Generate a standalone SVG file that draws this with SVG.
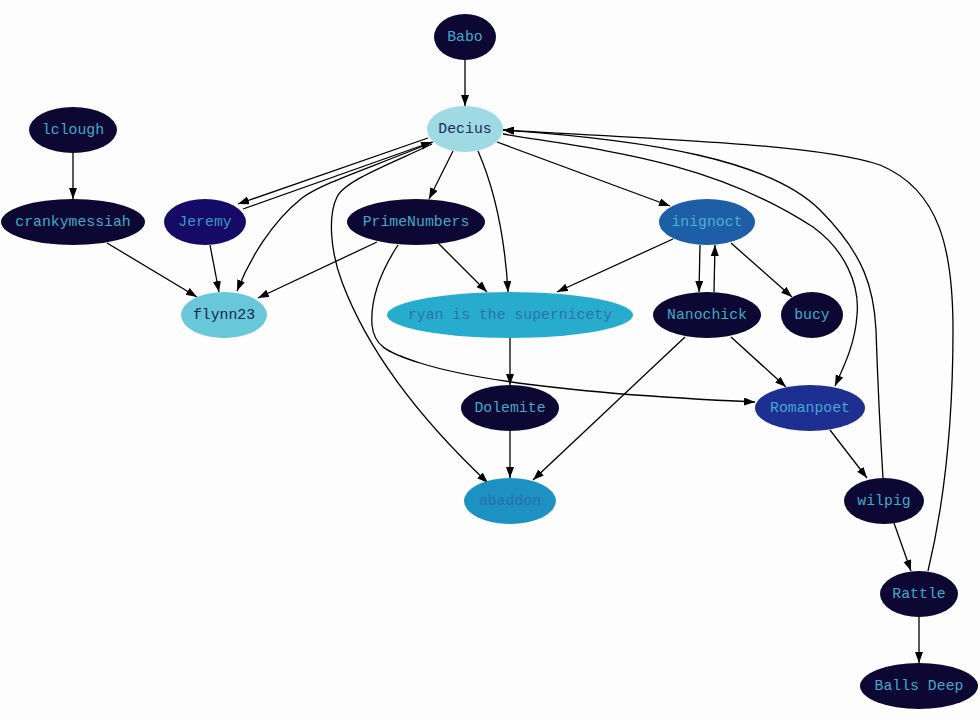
<svg xmlns="http://www.w3.org/2000/svg" width="980" height="720" viewBox="0 0 980 720">
<defs>
<marker id="arr" markerUnits="userSpaceOnUse" markerWidth="13" markerHeight="9" refX="11" refY="4" orient="auto">
<path d="M0,0 L11,4 L0,8 z" fill="#000"/>
</marker>
<style>
.e{fill:none;stroke:#000;stroke-width:1.3;marker-end:url(#arr)}
text{font-family:"Liberation Mono","DejaVu Sans Mono",monospace;font-size:14.8px;text-anchor:middle;dominant-baseline:central}
.dk{fill:#0c0733}
.lt{fill:#44a9c9}
</style>
</defs>
<rect width="980" height="720" fill="#fdfdfd"/>
<g id="edges">
<path class="e" d="M465,60 L465,106"/>
<path class="e" d="M73,153 L73,199"/>
<path class="e" d="M107,243 L197,297"/>
<path class="e" d="M210,245 L219,292"/>
<path class="e" d="M377,242 L258,298"/>
<path class="e" d="M433,142 C370,168 322,183 302,198 C272,222 250,258 237,291"/>
<path class="e" d="M428,138 L238,204"/>
<path class="e" d="M243,209 L432,142"/>
<path class="e" d="M453,151 L429,199"/>
<path class="e" d="M478,151 C495,190 505,240 508,292"/>
<path class="e" d="M432,144 C395,162 345,180 337,197 C328,215 330,250 342,282 C360,330 400,400 488,483"/>
<path class="e" d="M438,243 L487,292"/>
<path class="e" d="M398,245 C385,265 370,295 372,325 C374,345 385,352 420,363 C480,382 600,395 755,402"/>
<path class="e" d="M497,142 L670,206"/>
<path class="e" d="M503,134 C600,150 710,160 813,227 C845,250 860,285 857,315 C855,345 843,368 835,386"/>
<path class="e" d="M883,478 C880,430 877,360 876,330 C874,290 865,255 820,210 C770,160 650,140 503,130"/>
<path class="e" d="M928,571 C945,500 953,420 953,330 C953,250 940,190 880,165 C820,145 680,140 503,130"/>
<path class="e" d="M673,239 L557,292"/>
<path class="e" d="M700,245 L699,292"/>
<path class="e" d="M714,292 L715,245"/>
<path class="e" d="M731,243 L792,297"/>
<path class="e" d="M731,337 L786,387"/>
<path class="e" d="M685,337 L533,480"/>
<path class="e" d="M510,338 L510,385"/>
<path class="e" d="M510,431 L510,478"/>
<path class="e" d="M830,430 L867,478"/>
<path class="e" d="M894,523 L911,571"/>
<path class="e" d="M919,617 L919,663"/>
</g>
<g id="Babo"><ellipse class="dk" cx="465" cy="37" rx="31" ry="23"/><text class="lt" x="465" y="37">Babo</text></g>
<g id="Decius"><ellipse cx="465" cy="129" rx="38" ry="23" fill="#9fd9e3"/><text x="465" y="129" fill="#1b2d5c">Decius</text></g>
<g id="lclough"><ellipse class="dk" cx="73" cy="130" rx="44" ry="23"/><text class="lt" x="73" y="130">lclough</text></g>
<g id="crankymessiah"><ellipse class="dk" cx="73" cy="222" rx="72" ry="23"/><text class="lt" x="73" y="222">crankymessiah</text></g>
<g id="Jeremy"><ellipse cx="205" cy="222" rx="41" ry="23" fill="#150a66"/><text x="205" y="222" fill="#3a9bc2">Jeremy</text></g>
<g id="PrimeNumbers"><ellipse class="dk" cx="416" cy="222" rx="69" ry="23"/><text class="lt" x="416" y="222">PrimeNumbers</text></g>
<g id="flynn23"><ellipse cx="224" cy="315" rx="43" ry="23" fill="#69c7da"/><text x="224" y="315" fill="#13264a">flynn23</text></g>
<g id="ryan"><ellipse cx="510" cy="315" rx="123" ry="23" fill="#28acce"/><text x="510" y="315" fill="#2b72ad">ryan is the supernicety</text></g>
<g id="inignoct"><ellipse cx="707" cy="222" rx="48" ry="23" fill="#1d5ea7"/><text x="707" y="222" fill="#4bb0cf">inignoct</text></g>
<g id="Nanochick"><ellipse class="dk" cx="707" cy="315" rx="54" ry="23"/><text class="lt" x="707" y="315">Nanochick</text></g>
<g id="bucy"><ellipse class="dk" cx="812" cy="315" rx="31" ry="23"/><text class="lt" x="812" y="315">bucy</text></g>
<g id="Dolemite"><ellipse class="dk" cx="510" cy="408" rx="49" ry="23"/><text class="lt" x="510" y="408">Dolemite</text></g>
<g id="Romanpoet"><ellipse cx="810" cy="408" rx="55" ry="23" fill="#1e2f92"/><text x="810" y="408" fill="#43a9cf">Romanpoet</text></g>
<g id="abaddon"><ellipse cx="510" cy="501" rx="46" ry="23" fill="#1c91c2"/><text x="510" y="501" fill="#2b6fae">abaddon</text></g>
<g id="wilpig"><ellipse class="dk" cx="884" cy="501" rx="40" ry="23"/><text class="lt" x="884" y="501">wilpig</text></g>
<g id="Rattle"><ellipse class="dk" cx="919" cy="594" rx="39" ry="23"/><text class="lt" x="919" y="594">Rattle</text></g>
<g id="BallsDeep"><ellipse class="dk" cx="919" cy="686" rx="59" ry="23"/><text class="lt" x="919" y="686">Balls Deep</text></g>
</svg>
